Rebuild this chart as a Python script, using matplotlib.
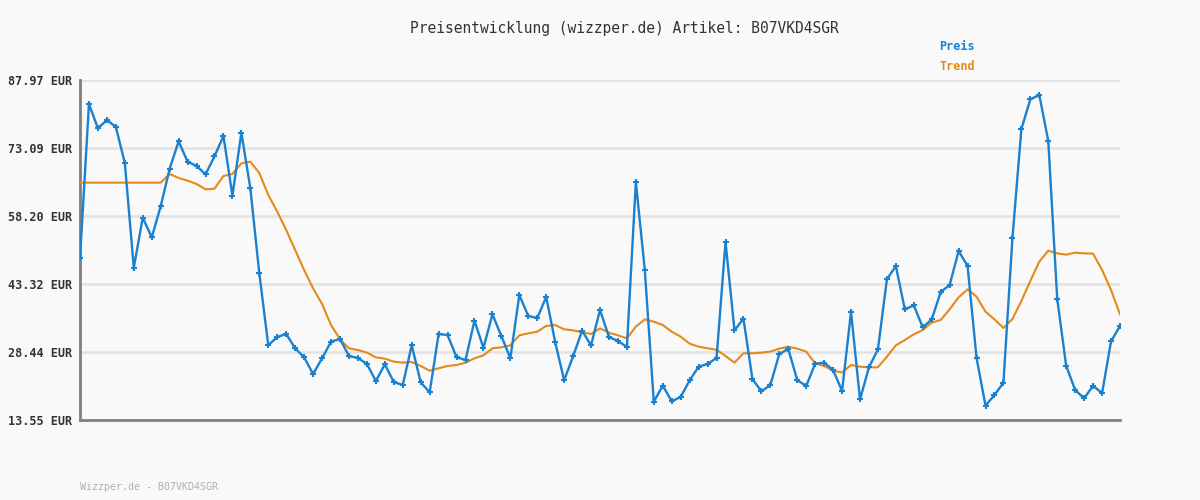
import matplotlib.pyplot as plt

# price per article snapshot (EUR)
preis = [
    48.94, 82.72, 77.39, 79.21, 77.68, 69.80, 46.89, 57.84, 53.53, 60.32,
    68.56, 74.54, 70.10, 69.15, 67.32, 71.26, 75.71, 62.65, 76.44, 64.26,
    45.65, 29.89, 31.72, 32.37, 29.24, 27.27, 23.62, 27.05, 30.70, 31.28,
    27.56, 27.12, 25.81, 22.09, 25.73, 21.87, 21.21, 29.89, 21.80, 19.61,
    32.37, 32.15, 27.30, 26.68, 35.29, 29.31, 36.68, 31.94, 27.05, 40.91,
    36.32, 35.88, 40.47, 30.62, 22.23, 27.49, 33.10, 29.89, 37.63, 31.72,
    30.84, 29.53, 65.64, 46.31, 17.56, 21.07, 17.64, 18.59, 22.23, 25.22,
    25.81, 27.12, 52.51, 33.18, 35.73, 22.53, 19.82, 21.21, 28.00, 29.09,
    22.30, 20.99, 25.88, 26.10, 24.50, 19.90, 37.19, 18.07, 25.08, 29.02,
    44.34, 47.26, 37.77, 38.65, 33.83, 35.58, 41.57, 43.10, 50.54, 47.26,
    27.12, 16.69, 19.02, 21.72, 53.31, 77.24, 83.74, 84.69, 74.62, 40.04,
    25.37, 20.12, 18.29, 21.07, 19.39, 30.77, 34.13,
]

trend = [
    65.50, 65.50, 65.50, 65.50, 65.50, 65.50, 65.50, 65.50, 65.50, 65.50,
    67.40, 66.52, 65.94, 65.21, 64.04, 64.19, 66.96, 67.40, 69.73, 70.10,
    67.60, 62.80, 59.15, 55.14, 50.76, 46.38, 42.37, 38.94, 34.34, 31.21,
    29.24, 28.87, 28.29, 27.27, 26.98, 26.32, 26.10, 26.25, 25.37, 24.35,
    24.86, 25.37, 25.59, 26.10, 27.05, 27.71, 29.24, 29.46, 29.89, 32.08,
    32.52, 32.88, 34.13, 34.34, 33.40, 33.18, 32.74, 32.37, 33.61, 32.67,
    32.08, 31.43, 33.98, 35.58, 35.07, 34.34, 32.88, 31.79, 30.26, 29.60,
    29.24, 28.94, 27.56, 26.10, 28.15, 28.15, 28.29, 28.51, 29.17, 29.60,
    29.17, 28.51, 25.95, 25.37, 24.35, 23.95, 25.59, 25.22, 25.08, 25.08,
    27.41, 29.89, 31.06, 32.30, 33.25, 34.85, 35.44, 37.77, 40.40, 42.15,
    40.55, 37.26, 35.58, 33.70, 35.65, 39.60, 44.00, 48.21, 50.61, 50.03,
    49.74, 50.18, 50.03, 49.96, 46.38, 42.01, 36.68,
]

y_ticks = [13.55, 28.44, 43.32, 58.20, 73.09, 87.97]
artikel = "B07VKD4SGR"

BLUE = "#1a80d0"
ORANGE = "#e58a1a"
BG = "#f9f9f9"


def main():
    fig = plt.figure(figsize=(12, 5), dpi=100, facecolor=BG)
    ax = fig.add_axes([80 / 1200, 80 / 500, 1040 / 1200, 340 / 500])
    ax.set_facecolor(BG)

    x = list(range(len(preis)))
    ax.plot(x, trend, color=ORANGE, linewidth=1.5, zorder=3)
    ax.plot(x, preis, color=BLUE, linewidth=1.7, marker="+", markersize=4,
            markeredgewidth=1.5, zorder=4)

    ax.set_xlim(0, len(preis) - 1)
    ax.set_ylim(y_ticks[0], y_ticks[-1])
    ax.set_xticks([])
    ax.set_yticks(y_ticks)
    ax.set_yticklabels([f"{v:.2f} EUR" for v in y_ticks],
                       family="DejaVu Sans Mono", fontweight="bold",
                       fontsize=8.5, color="#333333")
    ax.tick_params(axis="y", length=0, pad=6)

    ax.grid(True, axis="y", color="#e2e2e2", linewidth=1.8, zorder=0)
    for side in ["top", "right"]:
        ax.spines[side].set_visible(False)
    for side in ["left", "bottom"]:
        ax.spines[side].set_color("#808080")
        ax.spines[side].set_linewidth(2)

    fig.text(624 / 1200, 1 - 28 / 500,
             f"Preisentwicklung (wizzper.de) Artikel: {artikel}",
             ha="center", va="center", family="DejaVu Sans Mono",
             fontsize=10.5, color="#333333")
    fig.text(939 / 1200, 1 - 46 / 500, "Preis", ha="left", va="center",
             family="DejaVu Sans Mono", fontweight="bold", fontsize=8.5,
             color=BLUE)
    fig.text(939 / 1200, 1 - 67 / 500, "Trend", ha="left", va="center",
             family="DejaVu Sans Mono", fontweight="bold", fontsize=8.5,
             color=ORANGE)
    fig.text(80 / 1200, 1 - 487 / 500, f"Wizzper.de - {artikel}",
             ha="left", va="center", family="DejaVu Sans Mono",
             fontsize=7.2, color="#b0b0b0")

    fig.savefig("out.png", dpi=100, facecolor=BG)


if __name__ == "__main__":
    main()
